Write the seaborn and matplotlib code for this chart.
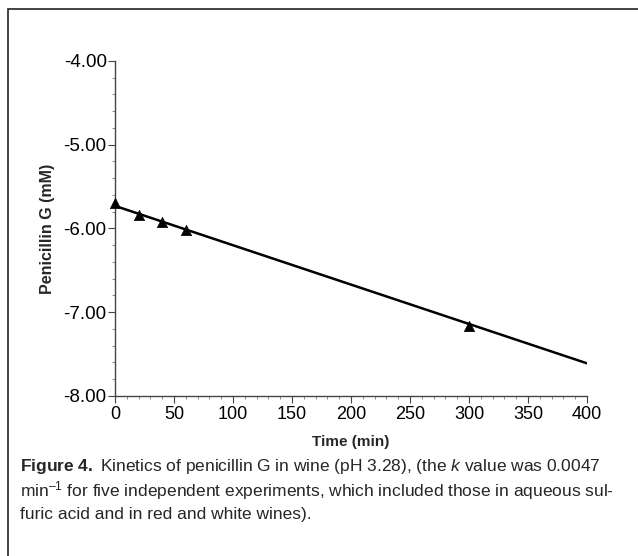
import matplotlib
matplotlib.use("Agg")
import matplotlib.pyplot as plt
import seaborn as sns
import pandas as pd
from matplotlib.patches import Rectangle
from matplotlib.ticker import MultipleLocator, FormatStrFormatter

# measured points (triangles)
time_min = [0, 20, 40, 60, 300]
pen_g = [-5.70, -5.84, -5.92, -6.02, -7.16]

# fitted regression line
fit_time = [0, 400]
fit_value = [-5.73, -7.61]

x_ticks = [0, 50, 100, 150, 200, 250, 300, 350, 400]
y_ticks = [-8.00, -7.00, -6.00, -5.00, -4.00]

sns.set_theme(style="ticks")
plt.rcParams['font.family'] = ['Liberation Sans', 'DejaVu Sans']
plt.rcParams['mathtext.fontset'] = 'custom'
plt.rcParams['mathtext.rm'] = 'Liberation Sans'
plt.rcParams['mathtext.it'] = 'Liberation Sans:italic'
plt.rcParams['mathtext.bf'] = 'Liberation Sans:bold'

fig = plt.figure(figsize=(6.38, 5.56), dpi=100)
ax = fig.add_axes([115 / 638, 0.2878, 472 / 638, 0.6025])

pts = pd.DataFrame({'time': time_min, 'pen': pen_g})
fit = pd.DataFrame({'time': fit_time, 'pen': fit_value})

sns.lineplot(data=fit, x='time', y='pen', color='black', linewidth=1.8, ax=ax)
sns.scatterplot(data=pts, x='time', y='pen', marker='^', color='black', s=55,
                edgecolor='black', linewidth=0.5, ax=ax, clip_on=False, zorder=5)

ax.set_xlim(0, 400)
ax.set_ylim(-8, -4)
ax.set_xticks(x_ticks)
ax.set_yticks(y_ticks)
ax.xaxis.set_minor_locator(MultipleLocator(10))
ax.yaxis.set_minor_locator(MultipleLocator(0.2))
ax.yaxis.set_major_formatter(FormatStrFormatter('%.2f'))
ax.tick_params(axis='both', which='major', length=5, width=0.8,
               color='#444444', labelcolor='black')
ax.tick_params(axis='x', which='major', labelsize=13, pad=2)
ax.tick_params(axis='y', which='major', labelsize=13.5, pad=1)
ax.tick_params(axis='both', which='minor', length=2.5, width=0.6, color='#777777')

sns.despine(ax=ax)
for s in ['left', 'bottom']:
    ax.spines[s].set_linewidth(1.0)
    ax.spines[s].set_color('#444444')

ax.set_xlabel('Time (min)', fontsize=11, fontweight='bold', labelpad=9)
ax.set_ylabel('Penicillin G (mM)', fontsize=11.5, fontweight='bold', labelpad=6)

# frame around the whole figure (right and bottom edges fall outside the image)
fig.patches.append(Rectangle((8 / 638, -0.05), 1.0, 1.05 - 9 / 556,
                             transform=fig.transFigure, fill=False,
                             edgecolor='#222222', linewidth=1.2))

cap_size = 12.5
fig.text(20 / 638, 1 - 467 / 556,
         r"$\mathbf{Figure\ 4.}$ Kinetics of penicillin G in wine (pH 3.28), (the $\mathit{k}$ value was 0.0047",
         fontsize=cap_size, va='center', ha='left')
fig.text(20 / 638, 1 - 491 / 556,
         "min$^{\u2013\\mathrm{1}}$ for five independent experiments, which included those in aqueous sul-",
         fontsize=cap_size, va='center', ha='left')
fig.text(20 / 638, 1 - 515 / 556,
         "furic acid and in red and white wines).",
         fontsize=cap_size, va='center', ha='left')

fig.savefig('out.png', dpi=100)
